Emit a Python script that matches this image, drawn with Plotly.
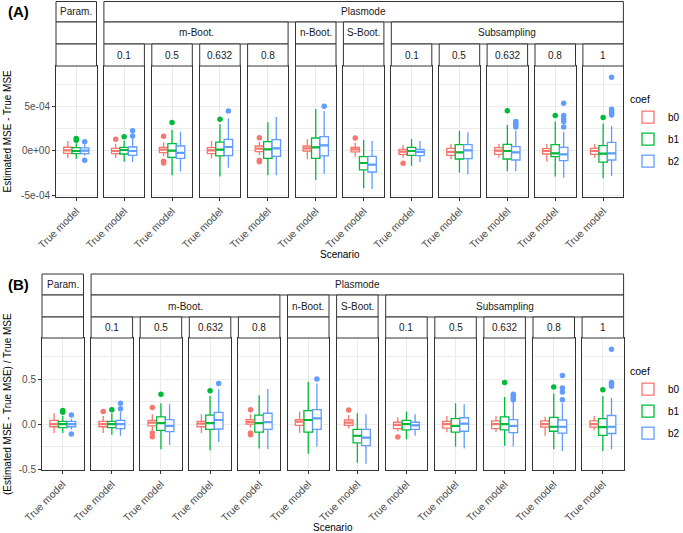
import plotly.graph_objects as go

W, H = 683, 533

# ---------------- facet structure ----------------
LEVEL1 = ["Param.", "Plasmode", "Plasmode", "Plasmode", "Plasmode", "Plasmode",
          "Plasmode", "Plasmode", "Plasmode", "Plasmode", "Plasmode", "Plasmode"]
LEVEL2 = ["", "m-Boot.", "m-Boot.", "m-Boot.", "m-Boot.", "n-Boot.", "S-Boot.",
          "Subsampling", "Subsampling", "Subsampling", "Subsampling", "Subsampling"]
LEVEL3 = ["", "0.1", "0.5", "0.632", "0.8", "", "", "0.1", "0.5", "0.632", "0.8", "1"]
X_CATEGORY = "True model"
COEFS = ["b0", "b1", "b2"]
COLORS = {"b0": "#F8766D", "b1": "#00BA38", "b2": "#619CFF"}

# ---------------- panel A (units of 1e-4) ----------------
UNIT_A = 1e-4
A = {
    "b0": dict(
        lo=[-0.82, -0.8, -0.6, -0.82, -0.45, -0.94, -0.64, -0.75, -0.94, -0.75, -1.2, -0.75],
        q1=[-0.26, -0.3, -0.19, -0.3, -0.07, 0.0, -0.11, -0.37, -0.49, -0.37, -0.34, -0.37],
        med=[0.07, 0.0, 0.15, 0.07, 0.26, 0.3, 0.19, -0.07, -0.1, 0.04, 0.0, 0.0],
        q3=[0.42, 0.3, 0.41, 0.37, 0.56, 0.56, 0.41, 0.19, 0.3, 0.37, 0.26, 0.3],
        hi=[1.12, 0.8, 0.97, 1.12, 1.05, 1.31, 0.94, 0.67, 0.79, 0.79, 0.79, 0.79],
        out=[[], [1.31], [1.65, -1.15, -1.35], [], [1.5, -1.05, -1.2], [], [1.46], [-1.39], [], [], [], []]),
    "b1": dict(
        lo=[-0.9, -1.2, -2.73, -2.88, -2.73, -3.26, -4.19, -1.65, -2.43, -2.28, -2.88, -3.07],
        q1=[-0.3, -0.34, -0.71, -0.56, -0.82, -0.82, -2.13, -0.49, -0.9, -0.9, -0.64, -1.24],
        med=[0.0, 0.11, 0.05, 0.15, 0.19, 0.41, -1.35, 0.0, -0.15, 0.0, -0.26, -0.3],
        q3=[0.37, 0.41, 0.82, 1.0, 1.05, 1.46, -0.64, 0.41, 0.71, 0.75, 0.71, 0.6],
        hi=[0.86, 1.16, 2.4, 3.0, 3.22, 4.72, 1.24, 1.35, 2.28, 2.92, 3.3, 3.1],
        out=[[1.39, 1.2], [1.61], [3.2], [3.56], [], [], [], [], [], [4.53], [4.0], [3.75]]),
    "b2": dict(
        lo=[-0.5, -1.24, -2.28, -1.87, -2.73, -2.55, -4.27, -1.24, -2.62, -2.28, -3.0, -2.8],
        q1=[-0.3, -0.49, -0.84, -0.52, -0.6, -0.56, -2.36, -0.52, -0.86, -1.01, -1.09, -1.01],
        med=[0.03, 0.0, -0.22, 0.45, 0.3, 0.64, -1.54, -0.11, 0.07, -0.15, -0.37, -0.26],
        q3=[0.35, 0.45, 0.56, 1.31, 1.27, 1.61, -0.6, 0.19, 0.71, 0.49, 0.41, 0.97],
        hi=[0.75, 1.5, 2.17, 3.68, 3.82, 4.5, 1.12, 1.12, 2.1, 2.28, 2.17, 2.8],
        out=[[1.05, -1.05], [1.69, 2.28], [], [4.49], [], [5.02], [], [], [],
             [3.3, 3.1, 2.9, 2.7], [5.36, 4.0, 3.6, 3.3, 2.7], [8.28, 4.68, 4.4, 4.2, 4.05]]),
}

# ---------------- panel B (relative) ----------------
UNIT_B = 1.0
B = {
    "b0": dict(
        lo=[-0.1, -0.1, -0.07, -0.1, -0.04, -0.1, -0.05, -0.08, -0.09, -0.09, -0.13, -0.07],
        q1=[-0.03, -0.03, -0.02, -0.03, 0.0, -0.015, -0.015, -0.05, -0.045, -0.05, -0.035, -0.035],
        med=[0.0, 0.0, 0.015, 0.005, 0.025, 0.026, 0.015, -0.01, 0.0, 0.0, 0.0, 0.0],
        q3=[0.04, 0.03, 0.04, 0.03, 0.05, 0.05, 0.045, 0.02, 0.03, 0.035, 0.035, 0.035],
        hi=[0.12, 0.09, 0.11, 0.11, 0.11, 0.14, 0.1, 0.075, 0.09, 0.09, 0.08, 0.09],
        out=[[], [0.14], [0.185, -0.1, -0.14], [], [0.16, -0.1, -0.12], [], [0.155], [-0.145], [], [], [], []]),
    "b1": dict(
        lo=[-0.1, -0.12, -0.28, -0.29, -0.27, -0.33, -0.43, -0.17, -0.25, -0.24, -0.28, -0.3],
        q1=[-0.04, -0.04, -0.07, -0.06, -0.09, -0.09, -0.21, -0.065, -0.09, -0.065, -0.08, -0.125],
        med=[0.0, 0.0, 0.01, 0.01, 0.01, 0.045, -0.13, 0.0, -0.02, 0.0, -0.03, -0.035],
        q3=[0.03, 0.03, 0.08, 0.10, 0.10, 0.15, -0.06, 0.04, 0.06, 0.08, 0.075, 0.06],
        hi=[0.09, 0.12, 0.23, 0.31, 0.32, 0.47, 0.12, 0.14, 0.23, 0.3, 0.34, 0.31],
        out=[[0.15, 0.13], [0.16], [0.33], [0.37], [], [], [], [], [], [0.46], [0.41], [0.38]]),
    "b2": dict(
        lo=[-0.06, -0.13, -0.23, -0.2, -0.28, -0.25, -0.44, -0.13, -0.27, -0.25, -0.3, -0.28],
        q1=[-0.03, -0.05, -0.085, -0.055, -0.06, -0.06, -0.24, -0.06, -0.08, -0.095, -0.1, -0.105],
        med=[0.0, 0.0, -0.02, 0.045, 0.02, 0.063, -0.15, -0.015, 0.005, -0.02, -0.03, -0.03],
        q3=[0.03, 0.04, 0.05, 0.13, 0.12, 0.16, -0.06, 0.02, 0.07, 0.05, 0.045, 0.095],
        hi=[0.06, 0.14, 0.22, 0.385, 0.39, 0.45, 0.11, 0.11, 0.22, 0.25, 0.23, 0.29],
        out=[[0.1, -0.11], [0.17, 0.23], [], [0.45], [], [0.5], [], [], [],
             [0.33, 0.31, 0.29, 0.27], [0.54, 0.40, 0.355, 0.27], [0.83, 0.46, 0.44, 0.42]]),
}

Y_TICKS_A = [-5e-4, 0.0, 5e-4]
Y_TICKTEXT_A = ["-5e-04", "0e+00", "5e-04"]
Y_MINOR_A = [-2.5e-4, 2.5e-4, 7.5e-4]
Y_TICKS_B = [-0.5, 0.0, 0.5]
Y_TICKTEXT_B = ["-0.5", "0.0", "0.5"]
Y_MINOR_B = [-0.25, 0.25, 0.75]

# ---------------- layout geometry (pixels) ----------------
PANELS = [
    dict(tag="(A)", data=A, unit=UNIT_A, yrange=[-5.17e-4, 9.55e-4],
         ticks=Y_TICKS_A, ticktext=Y_TICKTEXT_A, minor=Y_MINOR_A,
         ytitle="Estimated MSE - True MSE",
         left=56, step=47.9, fw=40.5, top=66, bot=197,
         strips=[(1.5, 22), (22, 44), (44, 66)], tag_y=12, xtitle_y=255,
         legend_y=89, legend="legend"),
    dict(tag="(B)", data=B, unit=UNIT_B, yrange=[-0.51, 0.955],
         ticks=Y_TICKS_B, ticktext=Y_TICKTEXT_B, minor=Y_MINOR_B,
         ytitle="(Estimated MSE - True MSE) / True MSE",
         left=42, step=49.1, fw=41.5, top=338, bot=470,
         strips=[(274, 295), (295, 317), (317, 338)], tag_y=284, xtitle_y=527,
         legend_y=361, legend="legend2"),
]

DODGE_WIDTH = 0.75
BOX_W = DODGE_WIDTH / len(COEFS)
FONT = "Liberation Sans, Arial, sans-serif"
BORDER = "#333333"
GRID = "#EBEBEB"

fig = go.Figure()
layout = dict(width=W, height=H, margin=dict(l=0, r=0, t=0, b=0, pad=0, autoexpand=False),
              autosize=False, template="none",
              paper_bgcolor="white", plot_bgcolor="white", boxmode="overlay",
              font=dict(family=FONT, size=10, color="#1a1a1a"),
              shapes=[], annotations=[])

def px_x(v):
    return v / W

def px_y(v):
    return 1 - v / H

nF = len(LEVEL1)
for p, P in enumerate(PANELS):
    for k in range(nF):
        idx = p * nF + k + 1
        xa = "xaxis" if idx == 1 else f"xaxis{idx}"
        ya = "yaxis" if idx == 1 else f"yaxis{idx}"
        xr = "x" if idx == 1 else f"x{idx}"
        yr = "y" if idx == 1 else f"y{idx}"
        x0 = P["left"] + k * P["step"]
        x1 = x0 + P["fw"]
        layout[xa] = dict(domain=[px_x(x0), px_x(x1)], anchor=yr, range=[-0.6, 0.6],
                          automargin=False,
                          tickmode="array", tickvals=[0], ticktext=[X_CATEGORY],
                          tickangle=-45, ticks="outside", ticklen=3, tickcolor=BORDER,
                          tickfont=dict(size=10.5, color="#4d4d4d", family=FONT),
                          showline=True, mirror=True, linecolor=BORDER, linewidth=1,
                          showgrid=True, gridcolor=GRID, gridwidth=1, zeroline=False,
                          fixedrange=True)
        layout[ya] = dict(domain=[px_y(P["bot"]), px_y(P["top"])], anchor=xr,
                          automargin=False,
                          range=P["yrange"], tickmode="array", tickvals=P["ticks"],
                          ticktext=P["ticktext"], showticklabels=(k == 0),
                          ticks="outside" if k == 0 else "", ticklen=3, tickcolor=BORDER,
                          tickfont=dict(size=10, color="#4d4d4d", family=FONT),
                          showline=True, mirror=True, linecolor=BORDER, linewidth=1,
                          showgrid=True, gridcolor=GRID, gridwidth=1, zeroline=False,
                          minor=dict(tickmode="array", tickvals=P["minor"], showgrid=True,
                                     gridcolor=GRID, gridwidth=0.6, ticks=""),
                          fixedrange=True)
        for ci, c in enumerate(COEFS):
            d = P["data"][c]
            u = P["unit"]
            pos = (ci - (len(COEFS) - 1) / 2) * BOX_W
            fig.add_trace(go.Box(
                x=[pos], q1=[d["q1"][k] * u], median=[d["med"][k] * u], q3=[d["q3"][k] * u],
                lowerfence=[d["lo"][k] * u], upperfence=[d["hi"][k] * u],
                width=BOX_W, fillcolor="white", line=dict(color=COLORS[c], width=1.3),
                whiskerwidth=0, boxpoints=False, name=c, legendgroup=c,
                showlegend=(k == 0), legend=P["legend"], xaxis=xr, yaxis=yr,
                hoverinfo="skip"))
            # thicker median (ggplot fatten)
            fig.add_trace(go.Scatter(
                x=[pos - BOX_W / 2, pos + BOX_W / 2], y=[d["med"][k] * u] * 2,
                mode="lines", line=dict(color=COLORS[c], width=2.2),
                showlegend=False, xaxis=xr, yaxis=yr, hoverinfo="skip"))
            if d["out"][k]:
                fig.add_trace(go.Scatter(
                    x=[pos] * len(d["out"][k]), y=[v * u for v in d["out"][k]],
                    mode="markers", marker=dict(color=COLORS[c], size=5.5),
                    showlegend=False, xaxis=xr, yaxis=yr, hoverinfo="skip"))

    # strips
    levels = [LEVEL1, LEVEL2, LEVEL3]
    for r, (sy0, sy1) in enumerate(P["strips"]):
        keys = [tuple(levels[j][i] for j in range(r + 1)) for i in range(nF)] if r < 2 else \
               [(i,) for i in range(nF)]
        i = 0
        while i < nF:
            j = i
            while j + 1 < nF and keys[j + 1] == keys[i]:
                j += 1
            sx0 = P["left"] + i * P["step"]
            sx1 = P["left"] + j * P["step"] + P["fw"]
            layout["shapes"].append(dict(type="rect", xref="paper", yref="paper",
                                         x0=px_x(sx0), x1=px_x(sx1), y0=px_y(sy1), y1=px_y(sy0),
                                         line=dict(color=BORDER, width=1), fillcolor="white",
                                         layer="above"))
            label = levels[r][i]
            if label:
                layout["annotations"].append(dict(
                    text=label, xref="paper", yref="paper", x=px_x((sx0 + sx1) / 2),
                    y=px_y((sy0 + sy1) / 2), showarrow=False, xanchor="center",
                    yanchor="middle", font=dict(size=10, color="#1a1a1a", family=FONT)))
            i = j + 1

    # tag, titles
    layout["annotations"].append(dict(text=f"<b>{P['tag']}</b>", xref="paper", yref="paper",
                                      x=px_x(6), y=px_y(P["tag_y"]), xanchor="left",
                                      yanchor="middle", showarrow=False,
                                      font=dict(size=15, color="black", family=FONT)))
    layout["annotations"].append(dict(text=P["ytitle"], xref="paper", yref="paper",
                                      x=px_x(7), y=px_y((P["top"] + P["bot"]) / 2),
                                      textangle=-90, xanchor="center", yanchor="middle",
                                      showarrow=False, font=dict(size=10, color="black", family=FONT)))
    mid_x = (P["left"] + (nF - 1) * P["step"] + P["fw"] + P["left"]) / 2
    layout["annotations"].append(dict(text="Scenario", xref="paper", yref="paper",
                                      x=px_x(mid_x), y=px_y(P["xtitle_y"]), xanchor="center",
                                      yanchor="middle", showarrow=False,
                                      font=dict(size=10, color="black", family=FONT)))
    layout[P["legend"]] = dict(x=px_x(628), y=px_y(P["legend_y"]), xanchor="left", yanchor="top",
                               title=dict(text="coef", font=dict(size=10.5, color="black")),
                               font=dict(size=10, color="black", family=FONT),
                               bgcolor="rgba(0,0,0,0)", tracegroupgap=3, itemclick=False)

fig.update_layout(**layout)
fig.write_html("out.html", config={"displayModeBar": False},
               post_script="document.body.style.margin='0';document.body.style.overflow='hidden';")
